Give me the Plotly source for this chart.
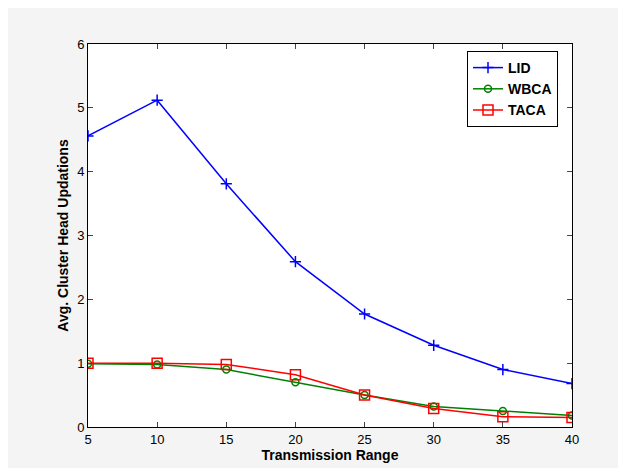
import plotly.graph_objects as go

x_range = [5, 10, 15, 20, 25, 30, 35, 40]
lid = [4.56, 5.12, 3.81, 2.59, 1.77, 1.28, 0.90, 0.68]
wbca = [0.99, 0.98, 0.90, 0.70, 0.50, 0.32, 0.25, 0.18]
taca = [1.00, 1.00, 0.98, 0.82, 0.50, 0.29, 0.16, 0.15]

FONT = "Liberation Sans, Arial, Helvetica, sans-serif"

fig = go.Figure()
fig.add_trace(go.Scatter(x=x_range, y=lid, name="LID", mode="lines+markers",
                         line=dict(color="#0000ff", width=1.5),
                         marker=dict(symbol="cross-thin", size=8, line=dict(color="#0000ff", width=1.5))))
fig.add_trace(go.Scatter(x=x_range, y=wbca, name="WBCA", mode="lines+markers",
                         line=dict(color="#008000", width=1.5),
                         marker=dict(symbol="circle-open", size=7, line=dict(color="#008000", width=1.5))))
fig.add_trace(go.Scatter(x=x_range, y=taca, name="TACA", mode="lines+markers",
                         line=dict(color="#ff0000", width=1.5),
                         marker=dict(symbol="square-open", size=10, line=dict(color="#ff0000", width=1.5))))

L, R, T, B = 80, 62, 36, 49
W, H = 626, 468
pw, ph = W - L - R, H - T - B

fig.update_layout(
    width=W, height=H,
    margin=dict(l=L, r=R, t=T, b=B),
    paper_bgcolor="#f4f4f4",
    plot_bgcolor="white",
    font=dict(family=FONT, size=13, color="black"),
    showlegend=True,
    legend=dict(x=(459 - L) / pw, y=(H - B - 43) / ph, xanchor="left", yanchor="top",
                bgcolor="white", bordercolor="black", borderwidth=1,
                font=dict(family=FONT, size=14, color="black", weight="bold"),
                itemwidth=30, tracegroupgap=0),
    xaxis=dict(range=[5, 40], tickvals=x_range, ticks="inside", ticklen=5,
               showline=True, linecolor="black", linewidth=1, mirror="ticks",
               showgrid=False, zeroline=False, automargin=False,
               tickfont=dict(size=13),
               title=dict(text="<b>Transmission Range</b>", standoff=3,
                          font=dict(family=FONT, size=14))),
    yaxis=dict(range=[0, 6], tickvals=[0, 1, 2, 3, 4, 5, 6], ticks="inside", ticklen=5,
               showline=True, linecolor="black", linewidth=1, mirror="ticks",
               showgrid=False, zeroline=False, automargin=False,
               tickfont=dict(size=13),
               title=dict(text="<b>Avg. Cluster Head Updations</b>", standoff=5,
                          font=dict(family=FONT, size=14))),
)

fig.write_html("out.html")
